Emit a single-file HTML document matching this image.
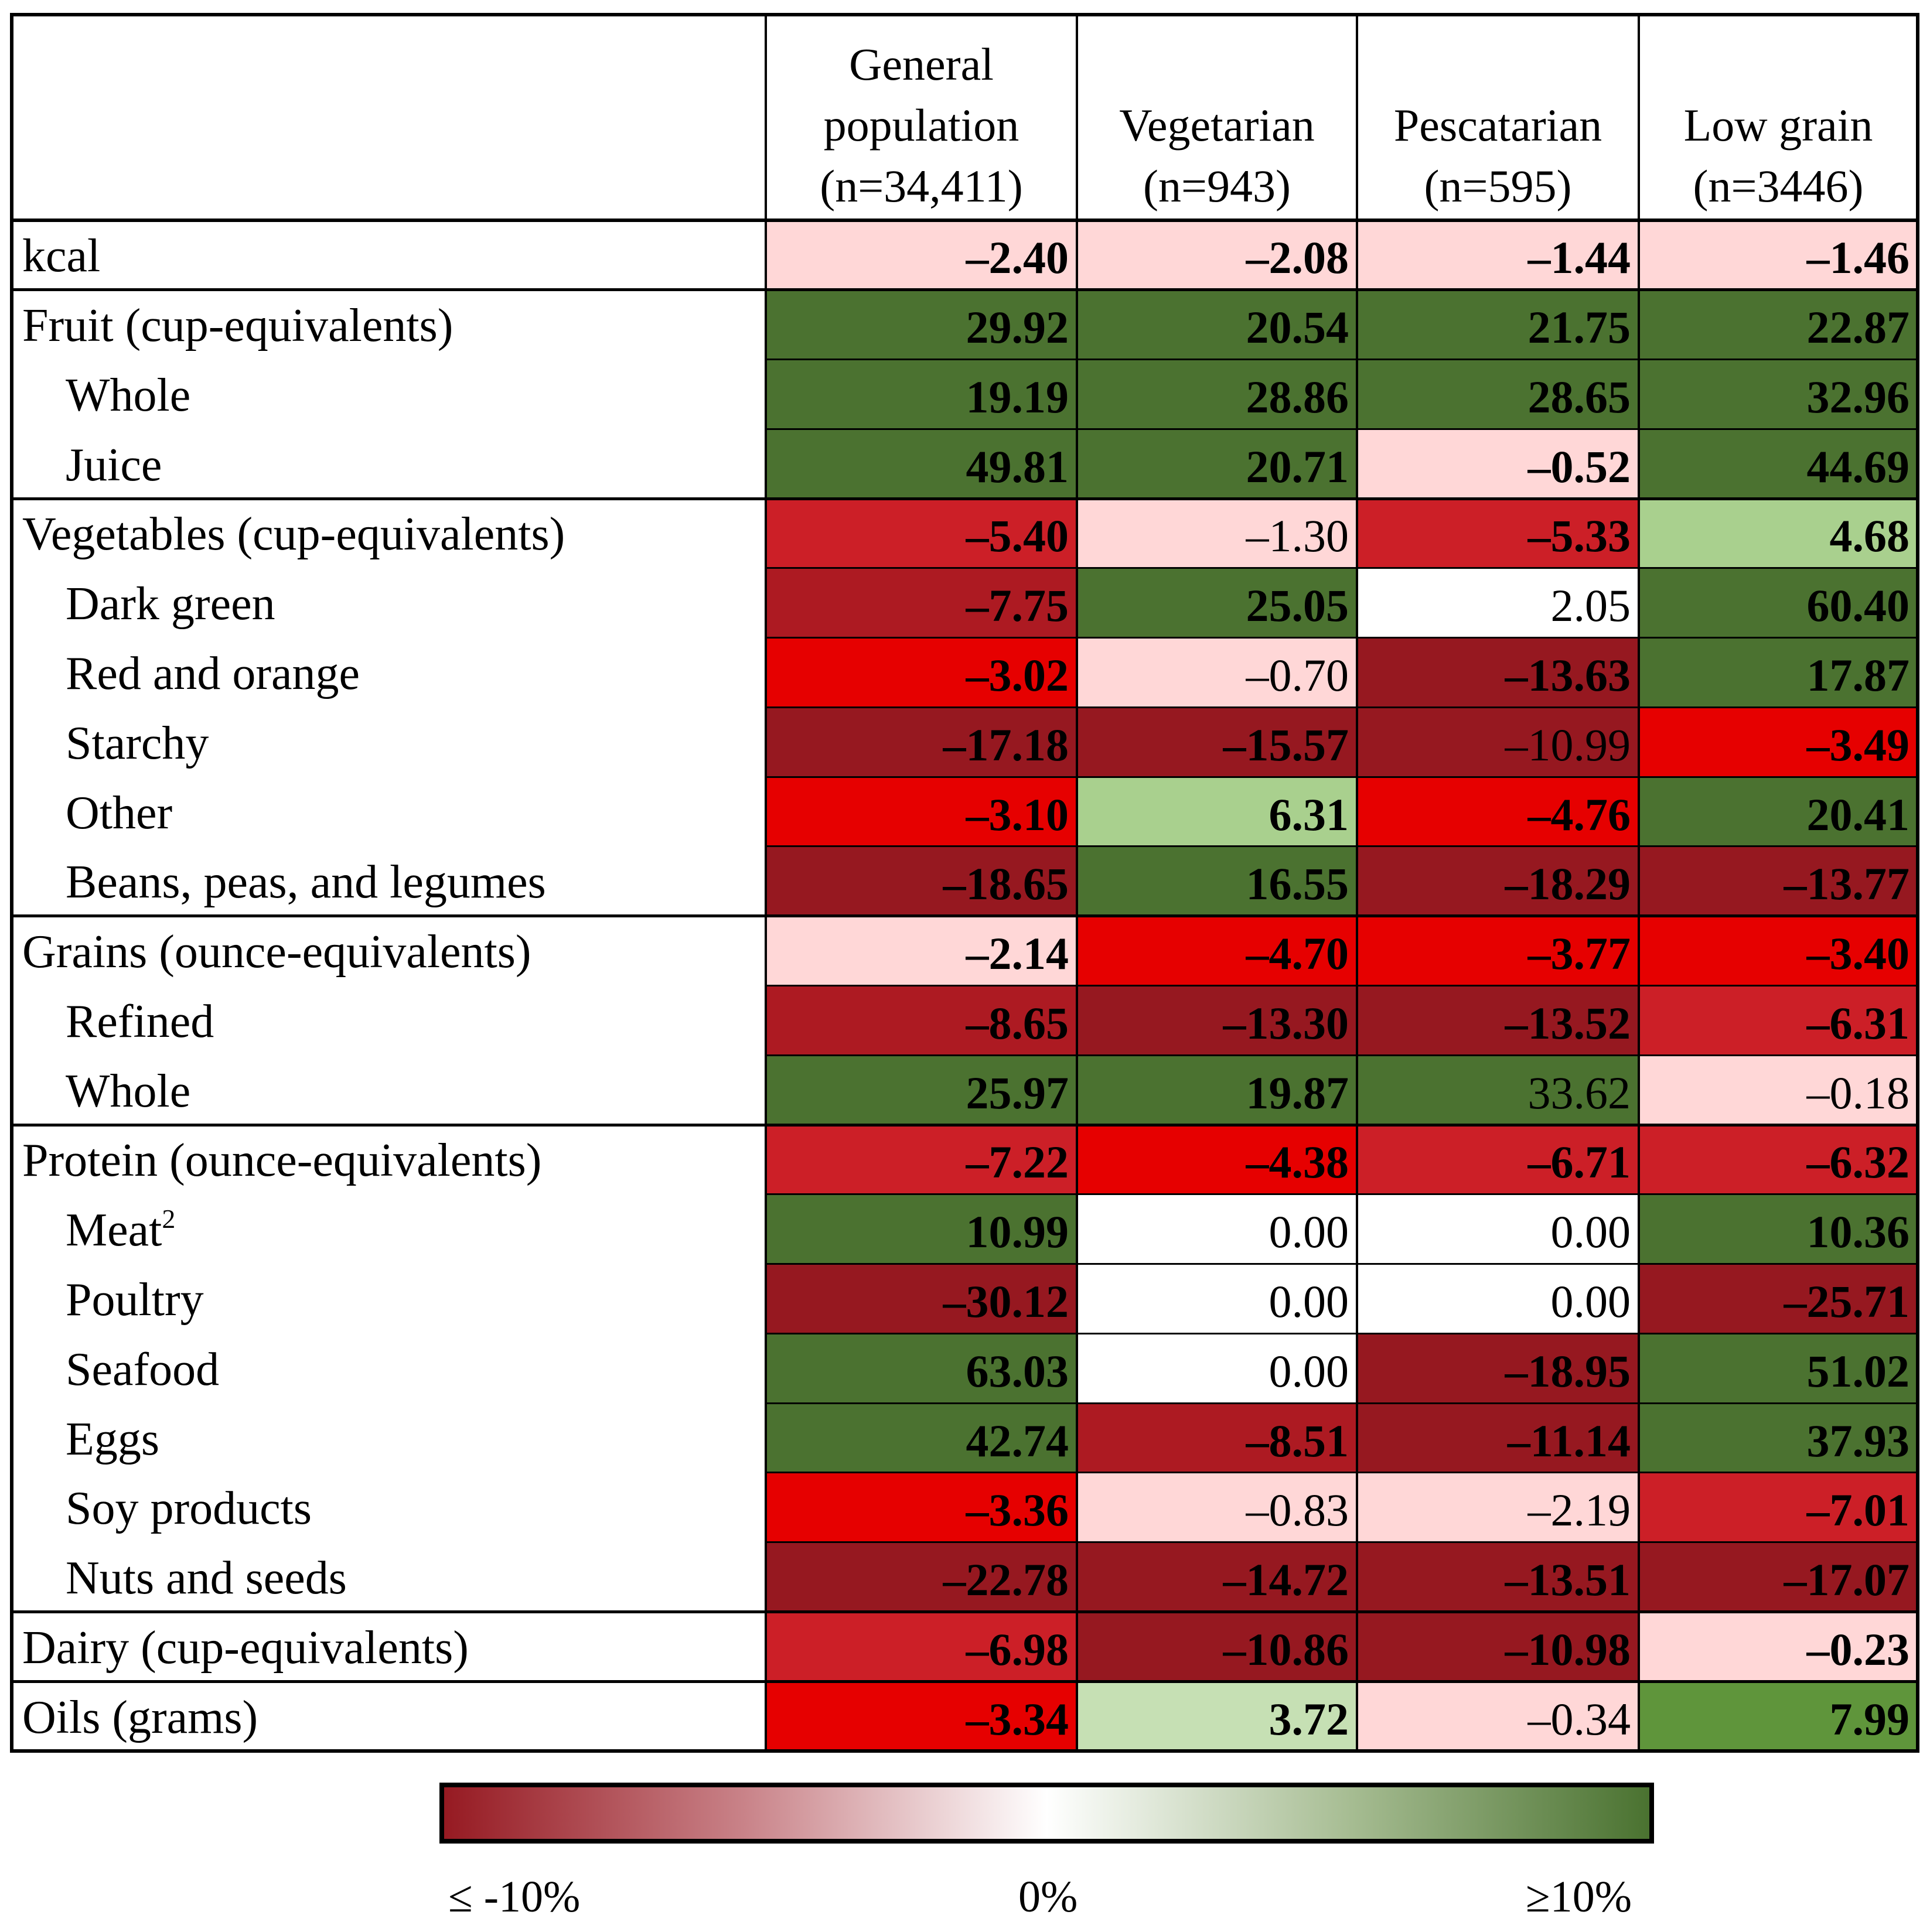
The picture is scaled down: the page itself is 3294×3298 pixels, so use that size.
<!DOCTYPE html>
<html><head><meta charset="utf-8"><style>
html,body{margin:0;padding:0;background:#fff;}
#root{position:relative;width:3294px;height:3298px;overflow:hidden;font-family:"Liberation Serif","Times New Roman",serif;color:#000;}
.cell{position:absolute;box-sizing:border-box;}
.val{position:absolute;font-size:78px;text-align:right;white-space:nowrap;line-height:1;}
.lab{position:absolute;font-size:80px;white-space:nowrap;line-height:1;}
.hl{position:absolute;background:#000;}
.hdr{position:absolute;font-size:78px;text-align:center;line-height:104px;white-space:nowrap;}
</style></head><body>
<div id="root"></div>
<script>
const columns = ["General population (n=34,411)","Vegetarian (n=943)","Pescatarian (n=595)","Low grain (n=3446)"];
const headerLines = [["General","population","(n=34,411)"],["Vegetarian","(n=943)"],["Pescatarian","(n=595)"],["Low grain","(n=3446)"]];
const rowLabels = ["kcal","Fruit (cup-equivalents)","Whole","Juice","Vegetables (cup-equivalents)","Dark green","Red and orange","Starchy","Other","Beans, peas, and legumes","Grains (ounce-equivalents)","Refined","Whole","Protein (ounce-equivalents)","Meat","Poultry","Seafood","Eggs","Soy products","Nuts and seeds","Dairy (cup-equivalents)","Oils (grams)"];
const indented = [0,0,1,1,0,1,1,1,1,1,0,1,1,0,1,1,1,1,1,1,0,0];
const values = [
[-2.40,-2.08,-1.44,-1.46],[29.92,20.54,21.75,22.87],[19.19,28.86,28.65,32.96],[49.81,20.71,-0.52,44.69],
[-5.40,-1.30,-5.33,4.68],[-7.75,25.05,2.05,60.40],[-3.02,-0.70,-13.63,17.87],[-17.18,-15.57,-10.99,-3.49],
[-3.10,6.31,-4.76,20.41],[-18.65,16.55,-18.29,-13.77],[-2.14,-4.70,-3.77,-3.40],[-8.65,-13.30,-13.52,-6.31],
[25.97,19.87,33.62,-0.18],[-7.22,-4.38,-6.71,-6.32],[10.99,0.00,0.00,10.36],[-30.12,0.00,0.00,-25.71],
[63.03,0.00,-18.95,51.02],[42.74,-8.51,-11.14,37.93],[-3.36,-0.83,-2.19,-7.01],[-22.78,-14.72,-13.51,-17.07],
[-6.98,-10.86,-10.98,-0.23],[-3.34,3.72,-0.34,7.99]];
const colorClass = [
"PPPP","GGGG","GGGG","GGPG","RPRL","DGWG","BPXG","XXXB","BLBG","XGXX","PBBB","DXXR","GGGP","RBRR","GWWG","XWWX","GWXG","GDXG","BPPR","XXXX","RXXP","BKPM"];
const boldFlags = [
"1111","1111","1111","1111","1011","1101","1011","1101","1111","1111","1111","1111","1100","1111","1001","1001","1011","1111","1001","1111","1111","1101"];
const groupEnds = [0,3,9,12,19,20];
const palette = {P:"#ffd7d7",G:"#4b7230",L:"#a9d08e",K:"#c6e0b4",M:"#5f953b",W:"#ffffff",B:"#e60000",R:"#cc1f27",D:"#ad1a22",X:"#961820"};
const legendLabels = ["\u2264 -10%","0%","\u226510%"];

const root=document.getElementById('root');
const colX=[20,1307,1838,2316,2797,3273];
const top0=25, hdrBot=376, tableBot=2989;
const rowH=(tableBot-hdrBot)/rowLabels.length;
function rowY(i){return hdrBot+i*rowH;}
function fmt(v){return (v<0?"\u2013":"")+Math.abs(v).toFixed(2);}
function add(tag,cls,style,text){const e=document.createElement(tag);e.className=cls;Object.assign(e.style,style);if(text!==undefined)e.textContent=text;root.appendChild(e);return e;}

headerLines.forEach((lines,c)=>{
  const n=lines.length;
  const e=add('div','hdr',{left:colX[c+1]+'px',width:(colX[c+2]-colX[c+1])+'px',top:(n===3?58:162)+'px'});
  
  
  e.innerHTML=lines.join('<br>');
});

rowLabels.forEach((lab,r)=>{
  const y=rowY(r);
  const l=add('div','lab',{left:(indented[r]?112:38)+'px',top:(y+rowH/2-38)+'px'},lab);
  if(lab==="Meat"){l.innerHTML='Meat<sup style="font-size:46px;vertical-align:30px;line-height:0">2</sup>';}
  
  
  values[r].forEach((v,c)=>{
    const cell=add('div','cell',{left:colX[c+1]+'px',top:y+'px',width:(colX[c+2]-colX[c+1])+'px',height:rowH+'px',background:palette[colorClass[r][c]]});
    
    
    const t=add('div','val',{right:(3294-colX[c+2]+14)+'px',top:(y+rowH/2-34)+'px',fontWeight:boldFlags[r][c]==='1'?'bold':'normal'},fmt(v));
    
    
  });
});

function hline(y,w){const e=add('div','hl',{left:(colX[0]-3)+'px',width:(colX[5]-colX[0]+6)+'px',top:(y-w/2)+'px',height:w+'px'});}
function vline(x,y0,y1,w){const e=add('div','hl',{left:(x-w/2)+'px',width:w+'px',top:y0+'px',height:(y1-y0)+'px'});}
hline(top0,6);hline(hdrBot,6);hline(tableBot,6);
for(let r=0;r<rowLabels.length-1;r++){
  const y=rowY(r+1);
  if(groupEnds.includes(r)) hline(y,5);
  else {const e=add('div','hl',{left:colX[1]+'px',width:(colX[5]-colX[1])+'px',top:(y-1.5)+'px',height:'3px'});}
}
vline(colX[0],top0,tableBot,6);vline(colX[5],top0,tableBot,6);
for(let c=1;c<5;c++) vline(colX[c],top0,tableBot,4);

const lg=add('div','cell',{left:'750px',top:'3043px',width:'2073px',height:'104px',border:'8px solid #000',background:'linear-gradient(to right,#961a22 0%,#c98389 25%,#ffffff 50%,#a7bd93 75%,#4a7230 100%)'});


const lx=[765,1738,2604];
legendLabels.forEach((s,i)=>{
  const e=add('div','lab',{left:lx[i]+'px',top:'3200px',fontSize:'76px'},s);
  
  
});
</script>
</body></html>
